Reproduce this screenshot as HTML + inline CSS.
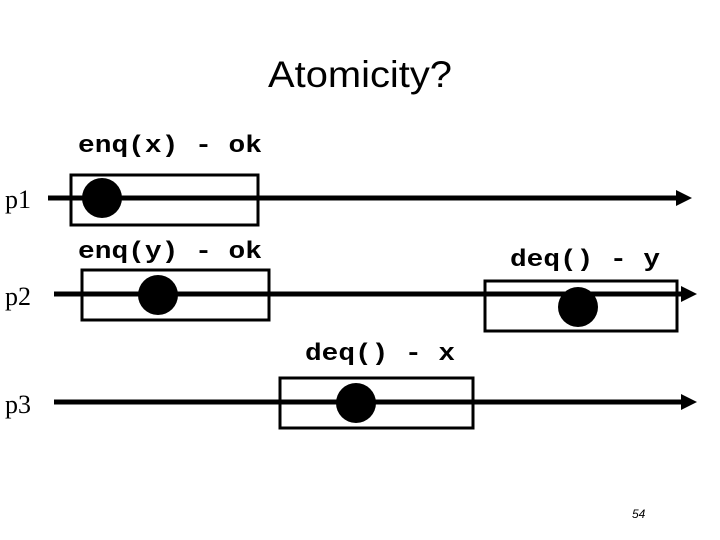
<!DOCTYPE html>
<html><head><meta charset="utf-8"><style>html,body{margin:0;padding:0;background:#fff}svg{display:block}</style></head>
<body>
<svg width="720" height="540" viewBox="0 0 720 540" xmlns="http://www.w3.org/2000/svg">
<rect width="720" height="540" fill="#fff"/>
<text x="268" y="87" font-family="Liberation Sans, sans-serif" font-size="37" textLength="184" lengthAdjust="spacingAndGlyphs">Atomicity?</text>
<g font-family="Liberation Mono, monospace" font-weight="bold" font-size="24">
<text x="78" y="152" textLength="184" lengthAdjust="spacingAndGlyphs">enq(x) - ok</text>
<text x="78" y="258" textLength="184" lengthAdjust="spacingAndGlyphs">enq(y) - ok</text>
<text x="510" y="266" textLength="150" lengthAdjust="spacingAndGlyphs">deq() - y</text>
<text x="305" y="360" textLength="150" lengthAdjust="spacingAndGlyphs">deq() - x</text>
</g>
<g font-family="Liberation Serif, serif" font-size="26">
<text x="5" y="208">p1</text>
<text x="5" y="305">p2</text>
<text x="5" y="413">p3</text>
</g>
<g stroke="#000" stroke-width="5">
<line x1="48" y1="198" x2="680" y2="198"/>
<line x1="54" y1="294" x2="685" y2="294"/>
<line x1="54" y1="402" x2="685" y2="402"/>
</g>
<g fill="#000">
<polygon points="676,190 692,198 676,206"/>
<polygon points="681,286 697,294 681,302"/>
<polygon points="681,394 697,402 681,410"/>
</g>
<g fill="none" stroke="#000" stroke-width="3">
<rect x="71" y="175" width="187" height="50"/>
<rect x="82" y="270" width="187" height="50"/>
<rect x="485" y="281" width="192" height="50"/>
<rect x="280" y="378" width="193" height="50"/>
</g>
<g fill="#000">
<circle cx="102" cy="198" r="20"/>
<circle cx="158" cy="295" r="20"/>
<circle cx="578" cy="307" r="20"/>
<circle cx="356" cy="403" r="20"/>
</g>
<text x="632" y="518" font-family="Liberation Sans, sans-serif" font-style="italic" font-size="12">54</text>
</svg>
</body></html>
